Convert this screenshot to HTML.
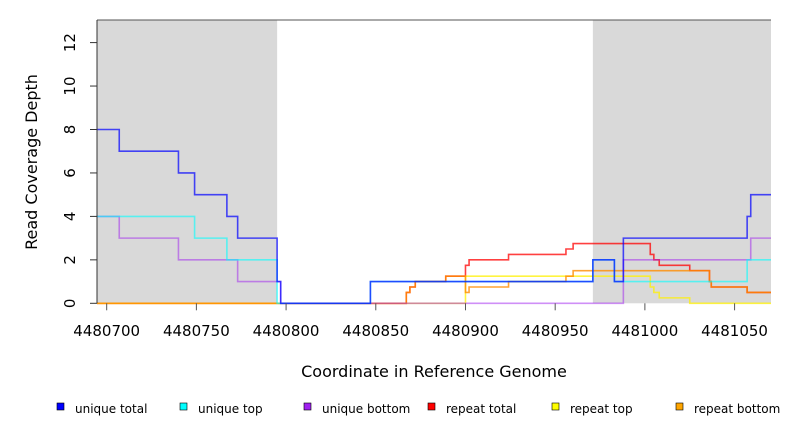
<!DOCTYPE html>
<html><head><meta charset="utf-8">
<style>
html,body{margin:0;padding:0;background:#fff;}
svg{display:block;font-family:"DejaVu Sans","Liberation Sans",sans-serif;}
</style></head>
<body>
<svg id="chart" width="792" height="432" viewBox="0 0 792 432"></svg>
<script>
const xDomain = [4480694.6, 4481070.3];
const yDomain = [0, 13.04];
const xTicks = [4480700, 4480750, 4480800, 4480850, 4480900, 4480950, 4481000, 4481050];
const yTicks = [0, 2, 4, 6, 8, 10, 12];
const shadedStarts = [4480694.6, 4480971];
const shadedEnds = [4480795, 4481070.3];

const uniqueTotalX = [4480694.6, 4480707, 4480740, 4480749, 4480767, 4480773, 4480795, 4480797, 4480847, 4480971, 4480983, 4480988, 4481057, 4481059];
const uniqueTotalY = [8, 7, 6, 5, 4, 3, 1, 0, 1, 2, 1, 3, 4, 5];
const uniqueTopX = [4480694.6, 4480749, 4480767, 4480795, 4480847, 4480971, 4480983, 4481057];
const uniqueTopY = [4, 3, 2, 0, 1, 2, 1, 2];
const uniqueBottomX = [4480694.6, 4480707, 4480740, 4480773, 4480797, 4480988, 4481059];
const uniqueBottomY = [4, 3, 2, 1, 0, 2, 3];
const repeatTotalX = [4480694.6, 4480867, 4480869, 4480872, 4480889, 4480900, 4480902, 4480924, 4480956, 4480960, 4481003, 4481005, 4481008, 4481025, 4481036, 4481037, 4481057];
const repeatTotalY = [0, 0.5, 0.75, 1, 1.25, 1.75, 2, 2.25, 2.5, 2.75, 2.25, 2, 1.75, 1.5, 1, 0.75, 0.5];
const repeatTopX = [4480694.6, 4480900, 4481003, 4481005, 4481008, 4481025];
const repeatTopY = [0, 1.25, 0.75, 0.5, 0.25, 0];
const repeatBottomX = [4480694.6, 4480867, 4480869, 4480872, 4480889, 4480900, 4480902, 4480924, 4480956, 4480960, 4481036, 4481037, 4481057];
const repeatBottomY = [0, 0.5, 0.75, 1, 1.25, 0.5, 0.75, 1, 1.25, 1.5, 1, 0.75, 0.5];

const legendLabels = ["unique total", "unique top", "unique bottom", "repeat total", "repeat top", "repeat bottom"];
const legendColors = ["#0000ff", "#00ffff", "#a020f0", "#ff0000", "#ffff00", "#ffa500"];

const L = 97, R = 771, T = 20, B = 303.3;
function sx(v){ return L + (v - xDomain[0]) / (xDomain[1] - xDomain[0]) * (R - L); }
function sy(v){ return B - (v - yDomain[0]) / (yDomain[1] - yDomain[0]) * (B - T); }

const svg = document.getElementById('chart');
const NS = 'http://www.w3.org/2000/svg';
function mk(tag, attrs, parent){
  const e = document.createElementNS(NS, tag);
  for (const k in attrs) e.setAttribute(k, attrs[k]);
  (parent || svg).appendChild(e);
  return e;
}

for (let i = 0; i < shadedStarts.length; i++){
  const r = mk('rect', {x: sx(shadedStarts[i]), y: T, width: sx(shadedEnds[i]) - sx(shadedStarts[i]), height: B - T, fill: '#d9d9d9'});
  
  
}

function stepPath(xs, ys){
  let d = '';
  for (let i = 0; i < xs.length; i++){
    const x0 = sx(xs[i]);
    const x1 = i + 1 < xs.length ? sx(xs[i+1]) : sx(xDomain[1]);
    const y = sy(ys[i]);
    d += (i === 0 ? 'M' : 'L') + x0.toFixed(2) + ',' + y.toFixed(2) + 'L' + x1.toFixed(2) + ',' + y.toFixed(2);
  }
  return d;
}
const series = [
  [repeatTotalX, repeatTotalY, 'rgba(255,0,0,0.75)', 'repeat-total-line'],
  [repeatTopX, repeatTopY, 'rgba(255,240,0,0.75)', 'repeat-top-line'],
  [repeatBottomX, repeatBottomY, 'rgba(255,140,0,0.8)', 'repeat-bottom-line'],
  [uniqueBottomX, uniqueBottomY, 'rgba(160,32,240,0.5)', 'unique-bottom-line'],
  [uniqueTopX, uniqueTopY, 'rgba(0,255,255,0.6)', 'unique-top-line'],
  [uniqueTotalX, uniqueTotalY, 'rgba(0,0,255,0.7)', 'unique-total-line']
];
series.forEach(s => {
  const p = mk('path', {d: stepPath(s[0], s[1]), fill: 'none', stroke: s[2], 'stroke-width': 1.6});
  
  
});

mk('line', {x1: L, y1: T, x2: R, y2: T, stroke: '#555', 'stroke-width': 1});
const ya = mk('line', {x1: L, y1: T, x2: L, y2: B, stroke: '#333', 'stroke-width': 1});



yTicks.forEach(v => {
  mk('line', {x1: L - 7, y1: sy(v), x2: L, y2: sy(v), stroke: '#333'});
  const t = mk('text', {x: 0, y: 0, transform: 'translate(75,' + sy(v) + ') rotate(-90)', 'text-anchor': 'middle', 'font-size': 15, fill: '#000'});
  t.textContent = v;
  
  
});
xTicks.forEach(v => {
  mk('line', {x1: sx(v), y1: B, x2: sx(v), y2: B + 7, stroke: '#555'});
  const t = mk('text', {x: sx(v), y: 336, 'text-anchor': 'middle', 'font-size': 15, fill: '#000'});
  t.textContent = v;
  
  
});

const xt = mk('text', {x: 434, y: 377, 'text-anchor': 'middle', 'font-size': 16, fill: '#000'});
xt.textContent = 'Coordinate in Reference Genome';


const ytt = mk('text', {x: 0, y: 0, transform: 'translate(37,162) rotate(-90)', 'text-anchor': 'middle', 'font-size': 16, fill: '#000'});
ytt.textContent = 'Read Coverage Depth';



const legendX = [57, 180, 304, 428, 552, 676];
legendLabels.forEach((lab, i) => {
  const g = mk('g', {});
  
  
  mk('rect', {x: legendX[i], y: 403, width: 7, height: 7, fill: legendColors[i], stroke: '#000', 'stroke-width': 0.6}, g);
  const t = mk('text', {x: legendX[i] + 18, y: 413, 'font-size': 12, fill: '#000'}, g);
  t.textContent = lab;
});
</script>
</body></html>
